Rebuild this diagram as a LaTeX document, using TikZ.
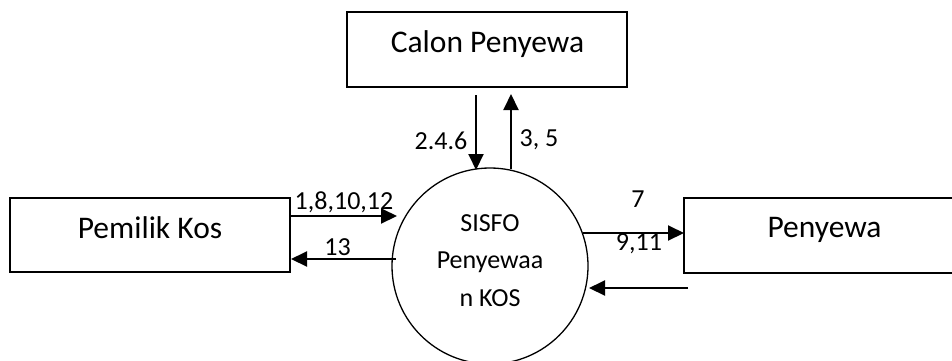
\documentclass[tikz,border=0pt]{standalone}
\usepackage{fontspec}
\setmainfont{Carlito}
\usetikzlibrary{arrows.meta}
\begin{document}
\begin{tikzpicture}[x=1pt,y=-1pt,
  box/.style={draw, line width=1.3pt, minimum width=280pt, minimum height=75pt, inner sep=0pt},
  proc/.style={draw, circle, line width=1.3pt, minimum size=196pt, inner sep=0pt},
  bigtext/.style={font=\fontsize{31.5}{38}\selectfont, anchor=base, inner sep=0pt},
  lbl/.style={font=\fontsize{26}{31}\selectfont, anchor=base, inner sep=0pt},
  flow/.style={line width=2pt, -{Triangle[length=16pt,width=15pt]}}]
\useasboundingbox (0,0) rectangle (952,360);
% entities
\node[box] (cp) at (487,49.5) {};
\node[bigtext] (cpt) at (487.5,52) {Calon Penyewa};
\node[box, minimum height=74pt] (pk) at (150,235) {};
\node[bigtext] (pkt) at (150,238) {Pemilik Kos};
\node[box, minimum width=281pt] (py) at (824.5,235.5) {};
\node[bigtext] (pyt) at (824.5,237) {Penyewa};
% process
\node[proc] (c) at (490,266) {};
\node[lbl] (c1) at (490,231.5) {SISFO};
\node[lbl] (c2) at (490,268) {Penyewaa};
\node[lbl] (c3) at (490,306.5) {n KOS};
% connector end points
\coordinate (dA) at (476,95);
\coordinate (dB) at (476,170);
\coordinate (uA) at (511,169);
\coordinate (uB) at (511,94);
\coordinate (pkA) at (290,216);
\coordinate (pkB) at (397,216);
\coordinate (pkC) at (396,259);
\coordinate (pkD) at (291,259);
\coordinate (pyA) at (583,233);
\coordinate (pyB) at (684,233);
\coordinate (pyC) at (688,288);
\coordinate (pyD) at (589,288);
% flows
\draw[flow] (dA) -- (dB);
\draw[flow] (uA) -- (uB);
\draw[flow] (pkA) -- (pkB);
\draw[flow] (pkC) -- (pkD);
\draw[flow] (pyA) -- (pyB);
\draw[flow] (pyC) -- (pyD);
% labels
\node[lbl] (l1) at (441,149) {2.4.6};
\node[lbl] (l2) at (539,146) {3, 5};
\node[lbl] (l3) at (344,209) {1,8,10,12};
\node[lbl] (l4) at (337.5,255) {13};
\node[lbl] (l5) at (638,207) {7};
\node[lbl] (l6) at (639,250.5) {9,11};
\end{tikzpicture}
\end{document}
